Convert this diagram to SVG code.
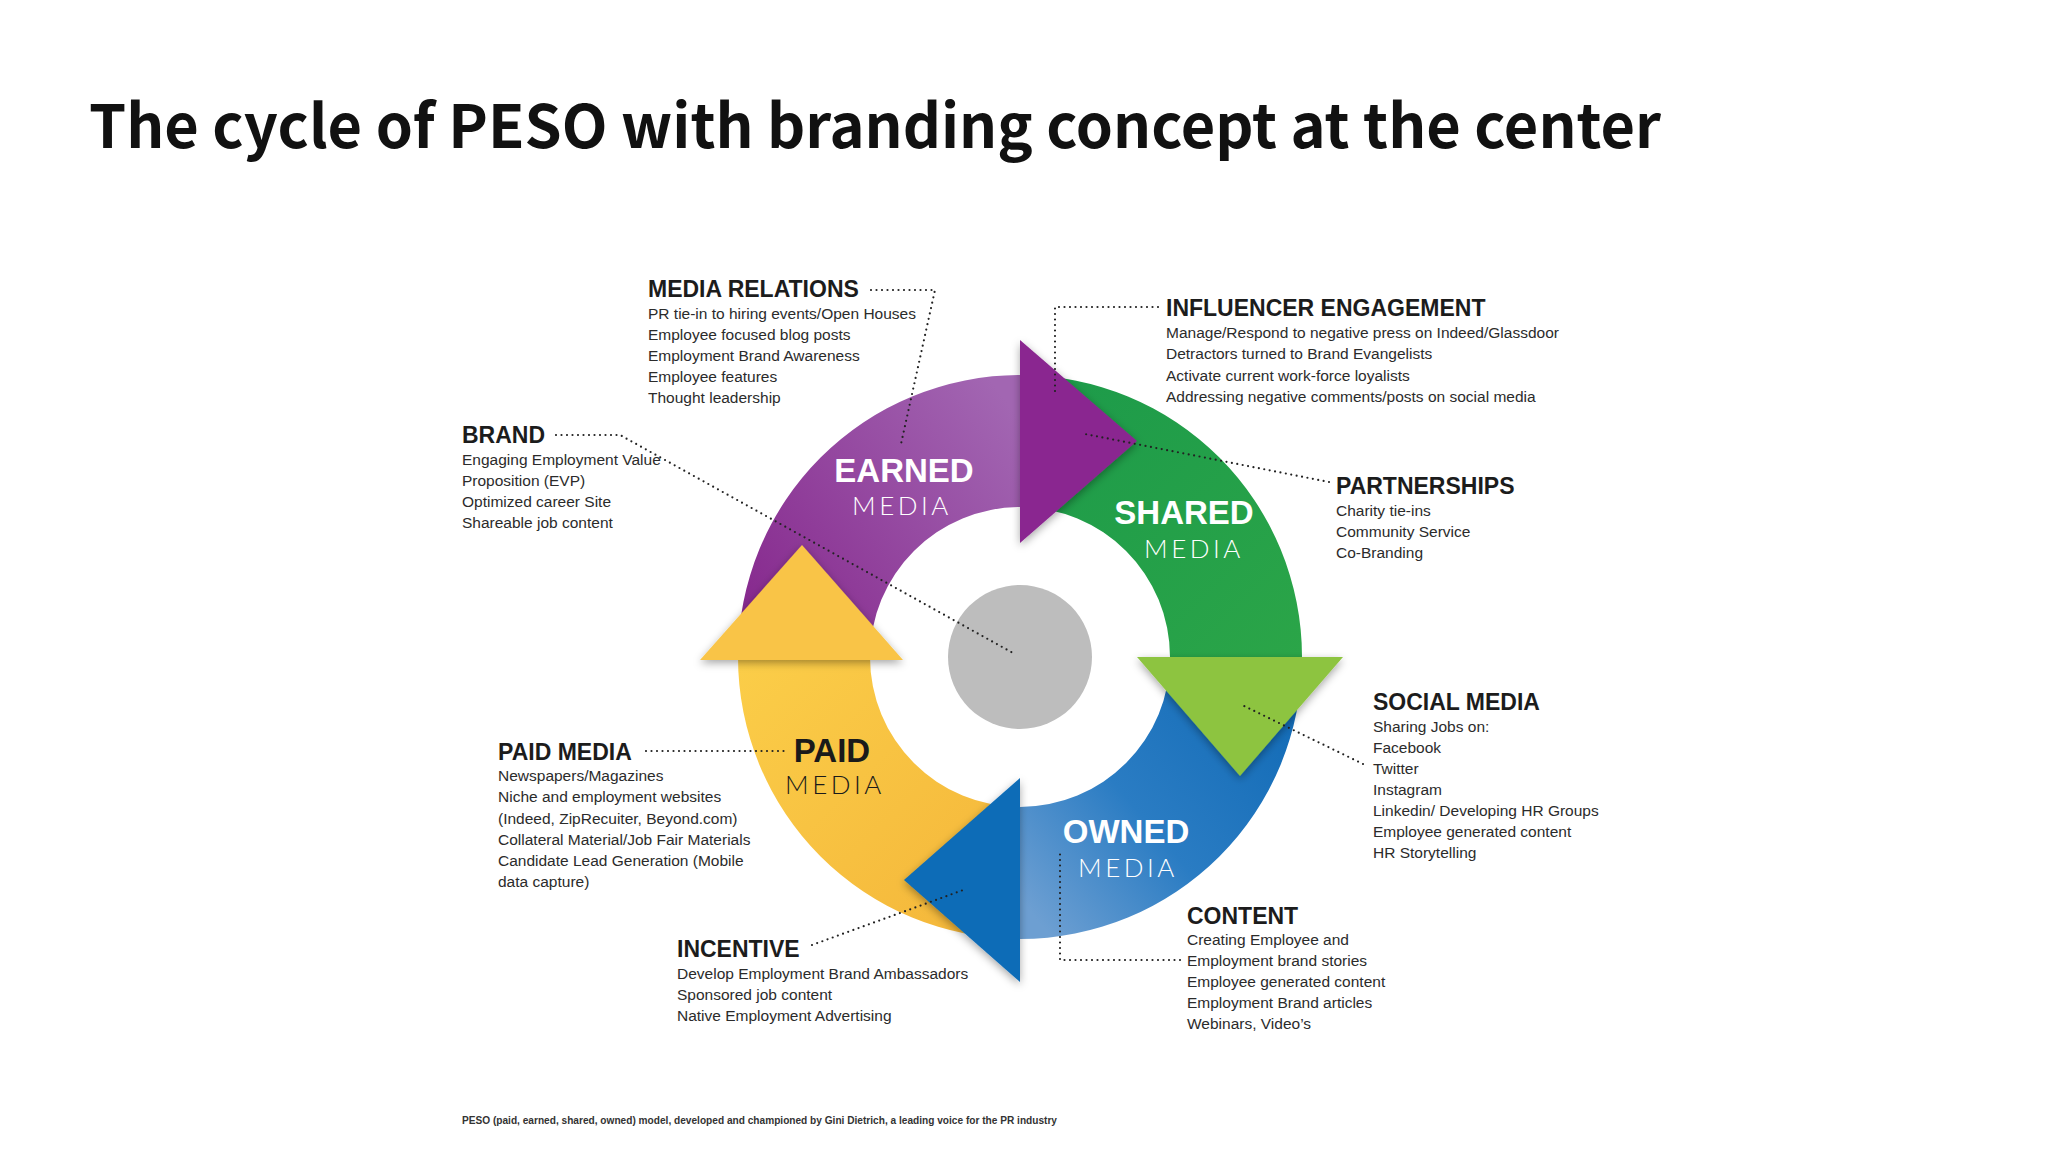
<svg xmlns="http://www.w3.org/2000/svg" width="2048" height="1152" viewBox="0 0 2048 1152">
  <style>
    .title { font-family: "Noto Sans CJK SC", "Noto Sans", sans-serif; font-weight: 700; font-size: 60px; fill: #111; }
    .hd { font-family: "Liberation Sans", Arial, sans-serif; font-weight: 700; font-size: 23px; fill: #1c1c1c; }
    .bd { font-family: "Liberation Sans", Arial, sans-serif; font-size: 15.5px; fill: #2b2b2b; }
    .big { font-family: "Liberation Sans", Arial, sans-serif; font-weight: 700; font-size: 33px; text-anchor: middle; }
    .sub { font-family: Lato, "Liberation Sans", sans-serif; font-weight: 300; font-size: 26px; letter-spacing: 3.5px; text-anchor: middle; }
    .w { fill: #ffffff; }
    .k { fill: #1a1a1a; }
    .dot { fill: none; stroke: #222; stroke-width: 2.2; stroke-dasharray: 0 5.5; stroke-linecap: round; }
    .foot { font-family: "Liberation Sans", Arial, sans-serif; font-weight: 700; font-size: 10px; fill: #333; }
  </style>
  <defs>
    <linearGradient id="gPurple" gradientUnits="userSpaceOnUse" x1="745" y1="620" x2="1020" y2="420">
      <stop offset="0" stop-color="#86288D"/>
      <stop offset="1" stop-color="#A266B2"/>
    </linearGradient>
    <linearGradient id="gGreen" gradientUnits="userSpaceOnUse" x1="1020" y1="380" x2="1300" y2="660">
      <stop offset="0" stop-color="#1C9A4A"/>
      <stop offset="1" stop-color="#2BA548"/>
    </linearGradient>
    <linearGradient id="gBlue" gradientUnits="userSpaceOnUse" x1="1300" y1="660" x2="1020" y2="900">
      <stop offset="0" stop-color="#0E68B4"/>
      <stop offset="0.6" stop-color="#2A7CC3"/>
      <stop offset="1" stop-color="#6D9FD2"/>
    </linearGradient>
    <linearGradient id="gYellow" gradientUnits="userSpaceOnUse" x1="745" y1="660" x2="1010" y2="930">
      <stop offset="0" stop-color="#FBCD48"/>
      <stop offset="1" stop-color="#F4B63A"/>
    </linearGradient>
    <filter id="sh" x="-30%" y="-30%" width="160%" height="160%">
      <feDropShadow dx="0" dy="3" stdDeviation="4" flood-color="#000" flood-opacity="0.35"/>
    </filter>
  </defs>

  <rect width="2048" height="1152" fill="#ffffff"/>

  <text class="title" x="89" y="148" textLength="1572" lengthAdjust="spacingAndGlyphs">The cycle of PESO with branding concept at the center</text>

  <g id="cycle">
    <g id="ring">
      <path d="M 738 657 A 282 282 0 0 1 1020 375 L 1020 507 A 150 150 0 0 0 870 657 Z" fill="url(#gPurple)"/>
      <path d="M 1020 375 A 282 282 0 0 1 1302 657 L 1170 657 A 150 150 0 0 0 1020 507 Z" fill="url(#gGreen)"/>
      <path d="M 1302 657 A 282 282 0 0 1 1020 939 L 1020 807 A 150 150 0 0 0 1170 657 Z" fill="url(#gBlue)"/>
      <path d="M 1020 939 A 282 282 0 0 1 738 657 L 870 657 A 150 150 0 0 0 1020 807 Z" fill="url(#gYellow)"/>
    </g>
    <g id="arrowheads" filter="url(#sh)">
      <polygon points="1020,340 1020,543 1137,441" fill="#8A2690"/>
      <polygon points="1137,657 1343,657 1240,776" fill="#8DC43F"/>
      <polygon points="1020,778 1020,982 904,880" fill="#0B6CB7"/>
      <polygon points="700,660 903,660 802,545" fill="#F9C446"/>
    </g>
    <circle id="core" cx="1020" cy="657" r="72" fill="#BDBDBD"/>
  </g>

  <g id="earned">
    <text class="big w" x="904" y="482">EARNED</text>
    <text class="sub w" x="902" y="515">MEDIA</text>
  </g>
  <g id="shared">
    <text class="big w" x="1184" y="524">SHARED</text>
    <text class="sub w" x="1194" y="558">MEDIA</text>
  </g>
  <g id="paid">
    <text class="big k" x="832" y="762">PAID</text>
    <text class="sub k" x="835" y="794">MEDIA</text>
  </g>
  <g id="owned">
    <text class="big w" x="1126" y="843">OWNED</text>
    <text class="sub w" x="1128" y="877">MEDIA</text>
  </g>

  <g id="connectors">
    <polyline class="dot" points="871,290 935,290 901,444"/>
    <polyline class="dot" points="556,435 620,435 1013,653"/>
    <polyline class="dot" points="1158,307 1055,307 1055,395"/>
    <polyline class="dot" points="1329,482 1085,434"/>
    <polyline class="dot" points="1363,764 1240,704"/>
    <polyline class="dot" points="646,751 788,751"/>
    <polyline class="dot" points="812,945 966,889"/>
    <polyline class="dot" points="1180,960 1060,960 1060,852"/>
  </g>

  <g id="media-relations">
    <text class="hd" x="648" y="297">MEDIA RELATIONS</text>
    <text class="bd" x="648" y="318.5">PR tie-in to hiring events/Open Houses</text>
    <text class="bd" x="648" y="339.5">Employee focused blog posts</text>
    <text class="bd" x="648" y="360.7">Employment Brand Awareness</text>
    <text class="bd" x="648" y="381.8">Employee features</text>
    <text class="bd" x="648" y="403">Thought leadership</text>
  </g>

  <g id="brand">
    <text class="hd" x="462" y="443">BRAND</text>
    <text class="bd" x="462" y="465">Engaging Employment Value</text>
    <text class="bd" x="462" y="486">Proposition (EVP)</text>
    <text class="bd" x="462" y="507">Optimized career Site</text>
    <text class="bd" x="462" y="528">Shareable job content</text>
  </g>

  <g id="influencer-engagement">
    <text class="hd" x="1166" y="316">INFLUENCER ENGAGEMENT</text>
    <text class="bd" x="1166" y="338">Manage/Respond to negative press on Indeed/Glassdoor</text>
    <text class="bd" x="1166" y="359.3">Detractors turned to Brand Evangelists</text>
    <text class="bd" x="1166" y="380.5">Activate current work-force loyalists</text>
    <text class="bd" x="1166" y="401.8">Addressing negative comments/posts on social media</text>
  </g>

  <g id="partnerships">
    <text class="hd" x="1336" y="494">PARTNERSHIPS</text>
    <text class="bd" x="1336" y="516">Charity tie-ins</text>
    <text class="bd" x="1336" y="537">Community Service</text>
    <text class="bd" x="1336" y="558">Co-Branding</text>
  </g>

  <g id="social-media">
    <text class="hd" x="1373" y="710">SOCIAL MEDIA</text>
    <text class="bd" x="1373" y="731.5">Sharing Jobs on:</text>
    <text class="bd" x="1373" y="752.5">Facebook</text>
    <text class="bd" x="1373" y="773.7">Twitter</text>
    <text class="bd" x="1373" y="794.8">Instagram</text>
    <text class="bd" x="1373" y="816">Linkedin/ Developing HR Groups</text>
    <text class="bd" x="1373" y="837">Employee generated content</text>
    <text class="bd" x="1373" y="858">HR Storytelling</text>
  </g>

  <g id="paid-media">
    <text class="hd" x="498" y="759.5">PAID MEDIA</text>
    <text class="bd" x="498" y="781">Newspapers/Magazines</text>
    <text class="bd" x="498" y="802.2">Niche and employment websites</text>
    <text class="bd" x="498" y="823.5">(Indeed, ZipRecuiter, Beyond.com)</text>
    <text class="bd" x="498" y="844.7">Collateral Material/Job Fair Materials</text>
    <text class="bd" x="498" y="866">Candidate Lead Generation (Mobile</text>
    <text class="bd" x="498" y="887">data capture)</text>
  </g>

  <g id="incentive">
    <text class="hd" x="677" y="956.6">INCENTIVE</text>
    <text class="bd" x="677" y="978.5">Develop Employment Brand Ambassadors</text>
    <text class="bd" x="677" y="999.5">Sponsored job content</text>
    <text class="bd" x="677" y="1020.5">Native Employment Advertising</text>
  </g>

  <g id="content">
    <text class="hd" x="1187" y="924">CONTENT</text>
    <text class="bd" x="1187" y="945">Creating Employee and</text>
    <text class="bd" x="1187" y="966">Employment brand stories</text>
    <text class="bd" x="1187" y="987">Employee generated content</text>
    <text class="bd" x="1187" y="1008">Employment Brand articles</text>
    <text class="bd" x="1187" y="1029">Webinars, Video’s</text>
  </g>

  <text class="foot" x="462" y="1124" textLength="595" lengthAdjust="spacingAndGlyphs">PESO (paid, earned, shared, owned) model, developed and championed by Gini Dietrich, a leading voice for the PR industry</text>
</svg>
